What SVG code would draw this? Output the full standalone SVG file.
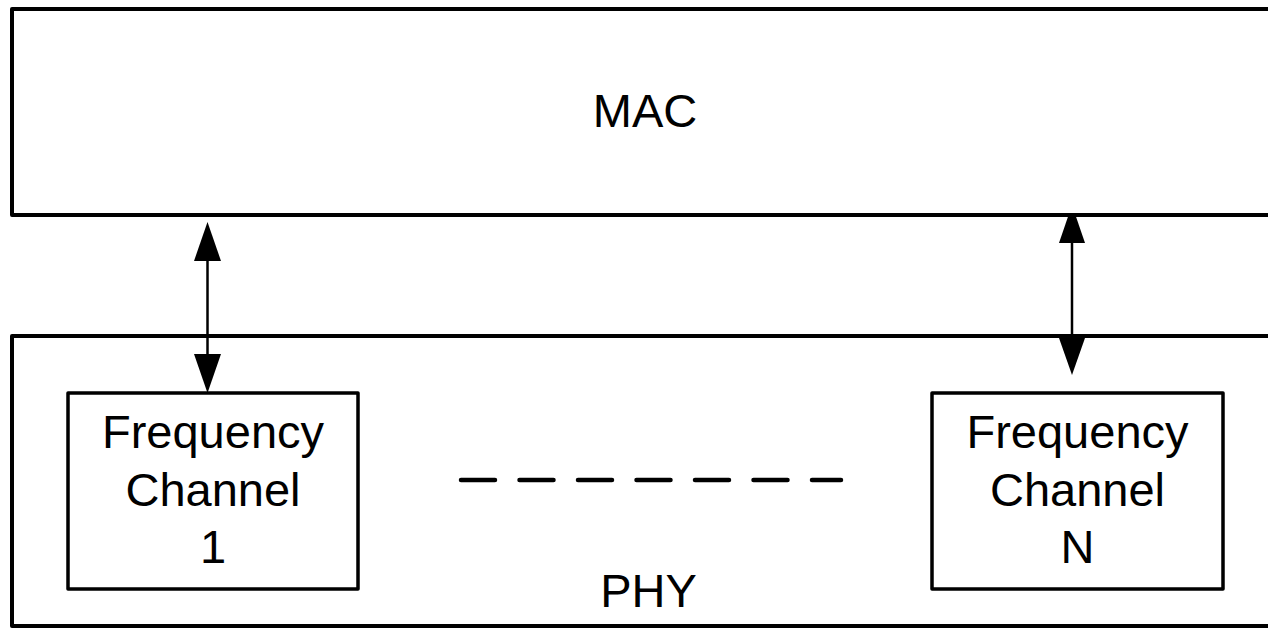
<svg xmlns="http://www.w3.org/2000/svg" width="1268" height="628" viewBox="0 0 1268 628">
<style>
.box{stroke:#000;stroke-width:4;stroke-linejoin:round}
.sub{fill:#fff;stroke:#000;stroke-width:3.5;stroke-linejoin:round}
.t{font-family:"Liberation Sans",Arial,sans-serif;font-size:47px;fill:#000;text-anchor:middle}
.ln{stroke:#000;stroke-width:2.5;fill:none}
.hd{fill:#000}
</style>
<rect width="1268" height="628" fill="#fff"/>
<g id="connectors">
  <line class="ln" x1="207.5" y1="258" x2="207.5" y2="357"/>
  <polygon class="hd" points="207.5,222 194,261 221,261"/>
  <polygon class="hd" points="207.5,393 194,354 221,354"/>
  <line class="ln" x1="1072" y1="240" x2="1072" y2="341"/>
  <polygon class="hd" points="1072,205 1059,243 1085,243"/>
  <polygon class="hd" points="1072,375 1059,338 1085,338"/>
  <line x1="461" y1="480" x2="841" y2="480" stroke="#000" stroke-width="4.5" stroke-linecap="round" stroke-dasharray="34 24.5"/>
</g>
<g id="mac">
  <rect class="box" x="12" y="9" width="1300" height="206" fill="#fff"/>
  <text class="t" x="645" y="127">MAC</text>
</g>
<g id="phy">
  <rect class="box" x="12" y="336" width="1300" height="290" fill="none"/>
  <text class="t" x="648.5" y="607">PHY</text>
</g>
<g id="channel1">
  <rect class="sub" x="68" y="393" width="290" height="196"/>
  <text class="t" x="213" y="448">Frequency</text>
  <text class="t" x="213" y="506">Channel</text>
  <text class="t" x="213" y="563">1</text>
</g>
<g id="channelN">
  <rect class="sub" x="932" y="393" width="291" height="196"/>
  <text class="t" x="1077.5" y="448">Frequency</text>
  <text class="t" x="1077.5" y="506">Channel</text>
  <text class="t" x="1077.5" y="563">N</text>
</g>
</svg>
